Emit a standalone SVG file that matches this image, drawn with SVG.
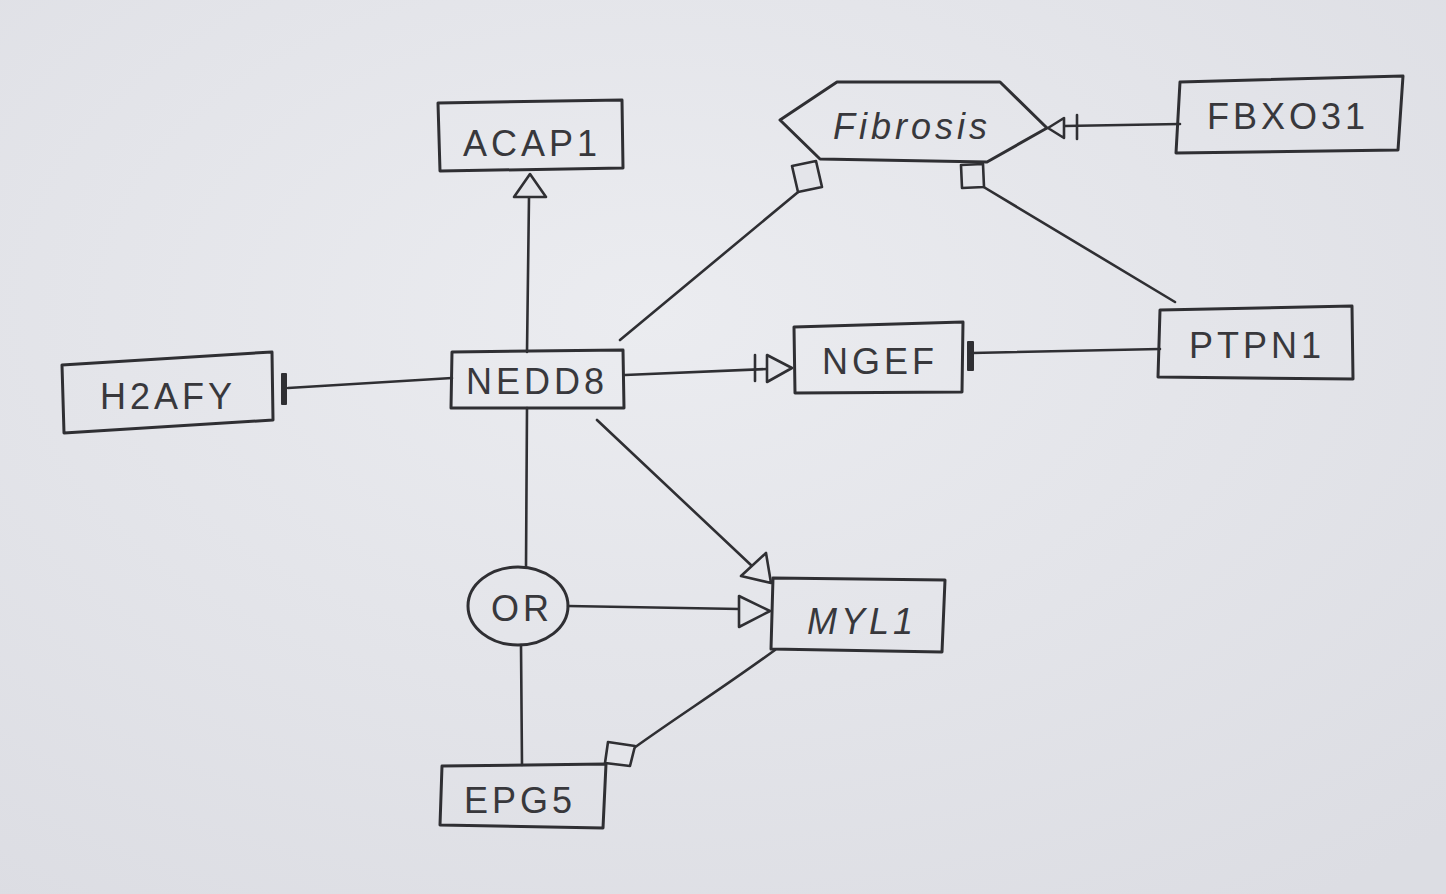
<svg xmlns="http://www.w3.org/2000/svg" width="1446" height="894" viewBox="0 0 1446 894">
<defs>
<style>
.n{fill:none;stroke:#2f2f33;stroke-width:3;stroke-linejoin:round}
.e{fill:none;stroke:#2f2f33;stroke-width:2.6;stroke-linecap:round}
.t{font-family:"Liberation Sans",Arial,sans-serif;font-size:36px;fill:#38383c;text-anchor:middle;dominant-baseline:central;letter-spacing:4px}
.open{fill:#e4e5ea;stroke:#2f2f33;stroke-width:2.6;stroke-linejoin:round}
.bar{fill:#2f2f33}
</style>
<radialGradient id="paper" cx="0.45" cy="0.35" r="0.8">
<stop offset="0" stop-color="#ebecf0"/>
<stop offset="1" stop-color="#dcdde3"/>
</radialGradient>
</defs>
<rect x="0" y="0" width="1446" height="894" fill="url(#paper)"/>
<g id="connectors">
<!-- NEDD8 -> ACAP1 (stimulation) -->
<line class="e" x1="527" y1="352" x2="529" y2="197"/>
<polygon class="open" points="530,174 514,197 546,197"/>
<!-- NEDD8 -> Fibrosis (square) -->
<line class="e" x1="620" y1="340" x2="803" y2="188"/>
<polygon class="open" points="792,166 816,161 822,187 798,192"/>
<!-- PTPN1 -> Fibrosis (square) -->
<line class="e" x1="1175" y1="302" x2="982" y2="186"/>
<polygon class="open" points="961,165 983,164 984,187 962,188"/>
<!-- FBXO31 -> Fibrosis (necessary stimulation) -->
<line class="e" x1="1180" y1="124" x2="1064" y2="126"/>
<polygon class="open" points="1048,128 1064,118 1064,138"/>
<line class="e" x1="1077" y1="115" x2="1077" y2="139" stroke-width="3"/>
<!-- NEDD8 -> NGEF (necessary stimulation) -->
<line class="e" x1="625" y1="375" x2="767" y2="369"/>
<line class="e" x1="755" y1="355" x2="755" y2="381" stroke-width="3"/>
<polygon class="open" points="792,368 767,355 767,382"/>
<!-- PTPN1 -| NGEF -->
<line class="e" x1="1160" y1="349" x2="972" y2="353"/>
<rect class="bar" x="967" y="341" width="7" height="30" rx="1"/>
<!-- NEDD8 -| H2AFY -->
<line class="e" x1="452" y1="378" x2="288" y2="388"/>
<rect class="bar" x="281" y="373" width="6" height="32" rx="1"/>
<!-- NEDD8 -> OR -->
<line class="e" x1="527" y1="408" x2="526" y2="567"/>
<!-- OR -> EPG5 -->
<line class="e" x1="521" y1="645" x2="522" y2="765"/>
<!-- OR -> MYL1 -->
<line class="e" x1="568" y1="606" x2="740" y2="609"/>
<polygon class="open" points="770,611 739,596 739,627"/>
<!-- NEDD8 -> MYL1 -->
<line class="e" x1="597" y1="420" x2="752" y2="566"/>
<polygon class="open" points="771,583 741,576 766,553"/>
<!-- MYL1 -> EPG5 (square) -->
<path class="e" d="M775,650 C720,690 680,715 634,748"/>
<polygon class="open" points="608,742 635,746 630,766 605,763"/>
</g>
<g id="ACAP1">
<path class="n" d="M438,103 L622,100 L623,168 L440,171 Z"/>
<text class="t" x="532" y="143">ACAP1</text>
</g>
<g id="Fibrosis">
<path class="n" d="M780,120 L837,82 L1000,82 L1047,128 L987,162 L820,159 Z"/>
<text class="t" x="912" y="126" font-style="italic">Fibrosis</text>
</g>
<g id="FBXO31">
<path class="n" d="M1180,82 L1403,76 L1398,150 L1176,153 Z"/>
<text class="t" x="1288" y="116">FBXO31</text>
</g>
<g id="NGEF">
<path class="n" d="M794,327 L963,322 L962,392 L795,393 Z"/>
<text class="t" x="880" y="361">NGEF</text>
</g>
<g id="PTPN1">
<path class="n" d="M1160,310 L1352,306 L1353,379 L1158,377 Z"/>
<text class="t" x="1257" y="345">PTPN1</text>
</g>
<g id="NEDD8">
<path class="n" d="M452,352 L623,350 L624,408 L451,408 Z"/>
<text class="t" x="537" y="381">NEDD8</text>
</g>
<g id="H2AFY">
<path class="n" d="M62,365 L272,352 L273,420 L64,433 Z"/>
<text class="t" x="168" y="396">H2AFY</text>
</g>
<g id="OR">
<ellipse class="n" cx="518" cy="606" rx="50" ry="39"/>
<text class="t" x="522" y="608">OR</text>
</g>
<g id="MYL1">
<path class="n" d="M773,578 L945,580 L942,652 L771,649 Z"/>
<text class="t" x="862" y="621" font-style="italic">MYL1</text>
</g>
<g id="EPG5">
<path class="n" d="M442,766 L606,764 L603,828 L440,825 Z"/>
<text class="t" x="520" y="800">EPG5</text>
</g>
</svg>
